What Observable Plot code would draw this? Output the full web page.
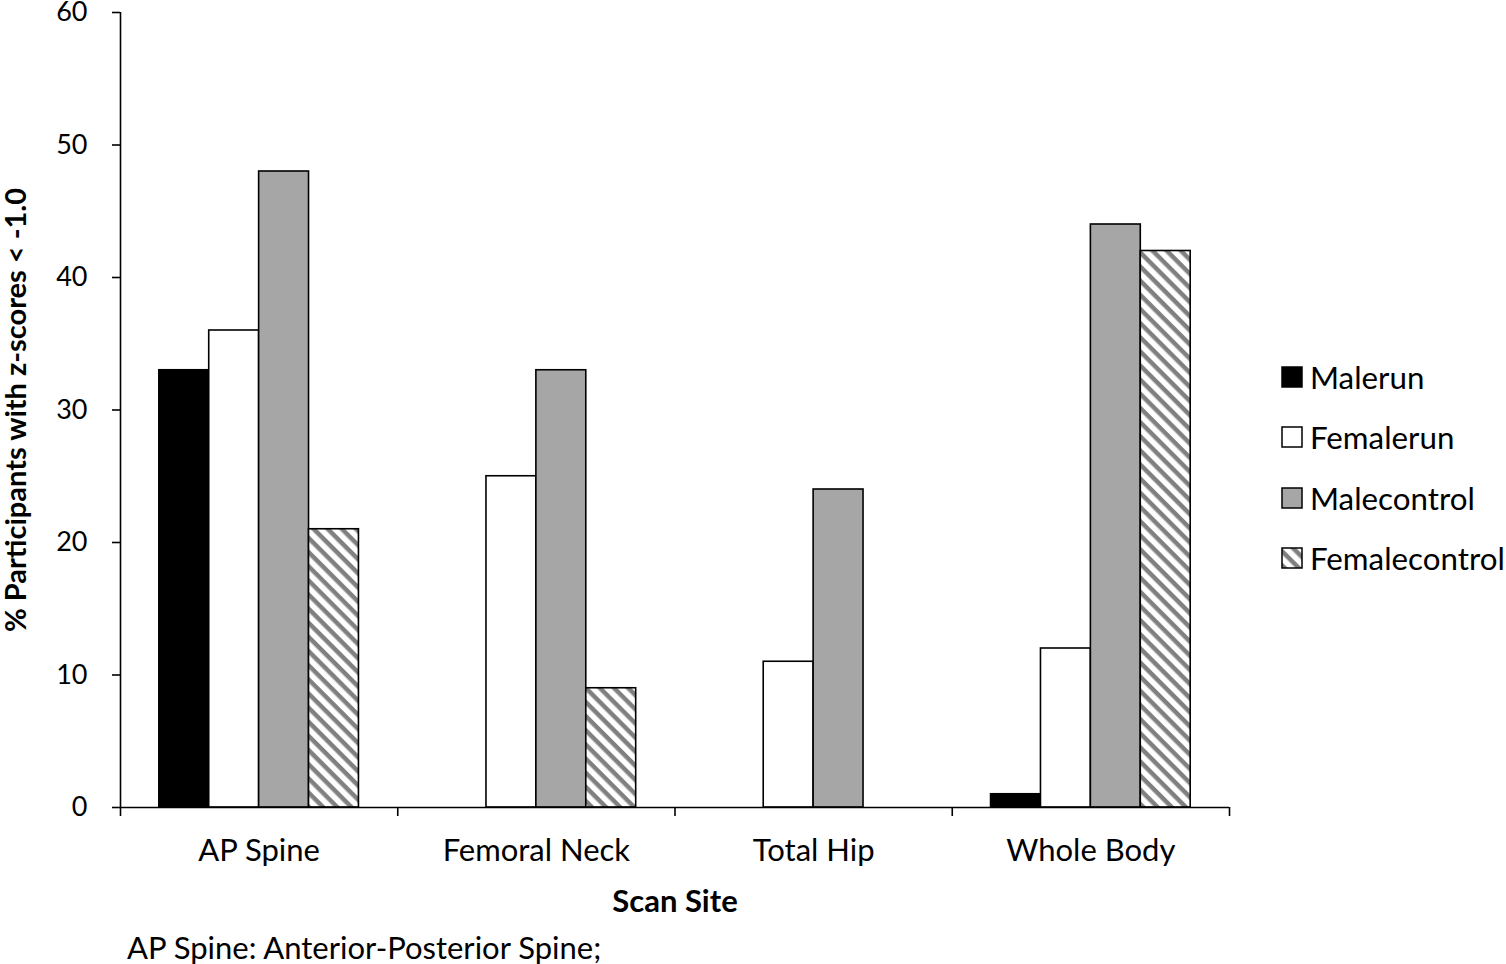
<!DOCTYPE html>
<html><head><meta charset="utf-8">
<script src="https://cdn.jsdelivr.net/npm/d3@7"></script>
<script src="https://cdn.jsdelivr.net/npm/@observablehq/plot@0.6"></script>
<style>
body{margin:0;background:#fff;font-family:Lato,sans-serif;}
#wrap{position:relative;width:1506px;height:964px;overflow:hidden;}
#chart svg{display:block;overflow:visible;}
#legend{position:absolute;left:1281px;top:0;}
.item{position:absolute;left:0;height:30px;display:flex;align-items:center;white-space:nowrap;font-size:31.3px;color:#000;}
.item svg{margin-right:7px;}
#note{position:absolute;left:127px;top:932px;font-size:31px;line-height:30px;color:#000;}
</style></head><body><div id="wrap"><div id="chart"></div><div id="legend"></div><div id="note">AP Spine: Anterior-Posterior Spine;</div></div>
<script>
const categories = ["AP Spine","Femoral Neck","Total Hip","Whole Body"];
const series = ["Malerun","Femalerun","Malecontrol","Femalecontrol"];
const malerun = [33,0,0,1];
const femalerun = [36,25,11,12];
const malecontrol = [48,33,24,44];
const femalecontrol = [21,9,0,42];
const yTicks = [0,10,20,30,40,50,60];
const seriesFills = ["#000000","#ffffff","#a6a6a6","url(#hatch)"];
const yTitle = "% Participants with z-scores < -1.0";
const xTitle = "Scan Site";

const values = [malerun,femalerun,malecontrol,femalecontrol];
const rows = [];
categories.forEach((c,i)=>series.forEach((s,j)=>rows.push({category:c, ci:i, series:s, si:j, value:values[j][i]})));
const outer = 0.14, bw = (1 - 2*outer)/series.length;

const patternDefs = `<defs><pattern id="hatch" patternUnits="userSpaceOnUse" width="10" height="10" patternTransform="rotate(45)"><rect width="10" height="10" fill="#fff"/><rect width="10" height="4.5" fill="#808080"/></pattern></defs>`;

const chart = Plot.plot({
  width: 1506, height: 925,
  marginTop: 12, marginLeft: 120, marginRight: 277, marginBottom: 118,
  style: {fontFamily: "Lato, sans-serif", fontSize: "27px", color:"#000", background:"#fff", overflow:"visible"},
  x: {domain: [0, categories.length]},
  y: {domain: [0, 60]},
  color: {type: "ordinal", domain: series, range: seriesFills},
  marks: [
    Plot.rect(rows.filter(d=>d.value>0), {
      x1: d => d.ci + outer + d.si*bw,
      x2: d => d.ci + outer + (d.si+1)*bw,
      y1: 0, y2: "value",
      fill: "series", stroke: "#000", strokeWidth: 1.6
    }),
    Plot.ruleX([0], {stroke:"#000", strokeWidth:1.6}),
    Plot.ruleY([0], {stroke:"#000", strokeWidth:1.6}),
    Plot.axisY({ticks: yTicks, tickSize: 8, tickPadding: 25, fontSize: 27, strokeWidth: 1.6, label: null}),
    Plot.axisX({ticks: d3.range(categories.length+1), tickSize: 9, strokeWidth: 1.6, tickFormat: () => "", label: null}),
    Plot.axisX({ticks: categories.map((c,i)=>i+0.5), tickFormat: d => categories[Math.floor(d)],
      tickSize: 0, tickPadding: 31, fontSize: 31, label: null}),
    Plot.text([yTitle], {text: d => d, frameAnchor: "left", textAnchor: "middle", lineAnchor: "middle", rotate: -90, dx: -104, fontSize: 29, fontWeight: "bold"}),
    Plot.text([xTitle], {text: d => d, frameAnchor: "bottom", lineAnchor: "middle", dy: 95, fontSize: 31, fontWeight: "bold"})
  ]
});
chart.insertAdjacentHTML("afterbegin", patternDefs);
document.getElementById("chart").appendChild(chart);

const legend = document.getElementById("legend");
const rowTops = [362, 422, 483, 543];
series.forEach((s,j)=>{
  const it = document.createElement("div");
  it.className = "item";
  it.style.top = rowTops[j] + "px";
  it.innerHTML = `<svg width="22" height="22"><defs><pattern id="lh${j}" patternUnits="userSpaceOnUse" width="10" height="10" patternTransform="rotate(45)"><rect width="10" height="10" fill="#fff"/><rect width="10" height="4.5" fill="#808080"/></pattern></defs><rect x="1" y="1" width="20" height="20" fill="${seriesFills[j].startsWith('url') ? `url(#lh${j})` : seriesFills[j]}" stroke="#000" stroke-width="1.5"/></svg><span>${s}</span>`;
  legend.appendChild(it);
});
</script>
</body></html>
